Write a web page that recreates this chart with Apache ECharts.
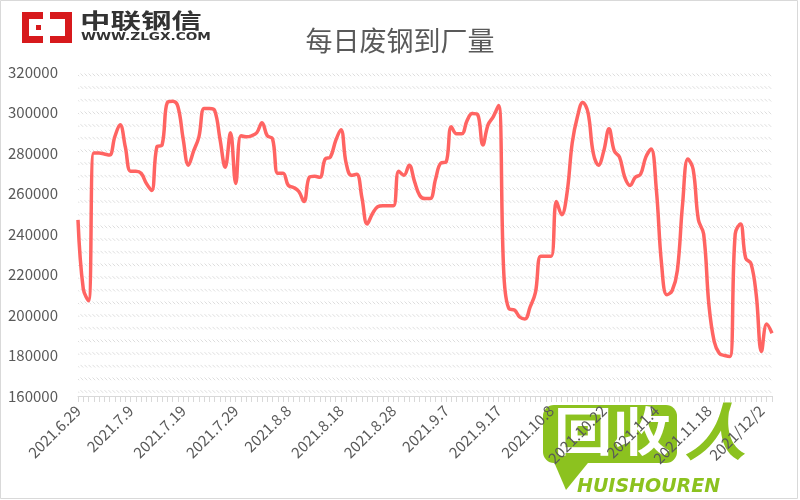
<!DOCTYPE html>
<html>
<head>
<meta charset="utf-8">
<script src="https://cdn.jsdelivr.net/npm/echarts/dist/echarts.min.js"></script>
<style>
html,body{margin:0;padding:0;background:#fff;}
#chart{width:800px;height:500px;}
</style>
</head>
<body>
<div id="chart"></div>
<script>
// ---- data ----
const chartTitle = '每日废钢到厂量';
const tickLabels = ['2021.6.29','2021.7.9','2021.7.19','2021.7.29','2021.8.8','2021.8.18','2021.8.28','2021.9.7','2021.9.17','2021.10.8','2021.10.22','2021.11.4','2021.11.18','2021/12/2'];
const arrivals = [
  247000,213000,207000,280000,280000,279500,279000,288000,294000,283000,
  271000,271000,270000,265000,261500,283000,284000,305000,305500,303000,
  287000,274000,281000,288000,302000,302000,301000,287000,273000,290000,
  265000,288500,288000,288500,290000,295000,288500,287000,270000,270000,
  264000,263000,261000,256000,268000,268500,268000,277000,278000,286000,
  291500,275000,269000,269500,258000,245000,250000,253500,254000,254000,
  254000,271000,269000,274000,266000,259000,257500,257500,267000,275000,
  275500,293000,289500,289500,296000,299500,299000,284000,294000,298000,
  303500,220000,203000,202500,199000,198000,204000,211000,229000,229000,
  229000,256000,249500,260000,285000,298000,305000,300000,280000,274000,
  281000,292000,281000,278000,268000,264000,268000,269500,278000,282000,
  262000,225000,210000,212000,222000,255000,277000,272000,247000,240000,
  205000,187000,181000,180000,179500,240000,245000,228000,225500,210000,
  182000,195500,191000
];
const yTicks = {min:160000, max:320000, step:20000};

// categories: one per observation, labelled every 10th
const categories = arrivals.map((_, i) => (i % 10 === 0 && tickLabels[i/10]) ? tickLabels[i/10] : ('d' + i));

// hatched plot background
function hatchPattern(){
  const c = document.createElement('canvas');
  c.width = 4; c.height = 38;
  const ctx = c.getContext('2d');
  ctx.strokeStyle = '#dedede';
  ctx.lineWidth = 1;
  [0, 12.67, 25.33].forEach(y0 => {
    ctx.beginPath();
    ctx.moveTo(0.5, y0 + 0.5);
    ctx.lineTo(3.2, y0 + 3.2);
    ctx.stroke();
  });
  return {image: c, repeat: 'repeat', y: 73};
}

const chart = echarts.init(document.getElementById('chart'), null, {renderer:'canvas'});
const labelColor = '#595959';
const font = '"Noto Sans CJK SC", "Microsoft YaHei", sans-serif';

chart.setOption({
  animation: false,
  backgroundColor: '#ffffff',
  title: {
    text: chartTitle,
    left: 'center',
    top: 22,
    textStyle: {fontSize: 27, fontWeight: 'normal', color: labelColor, fontFamily: font}
  },
  grid: {
    left: 78, right: 28, top: 72, bottom: 104,
    show: true,
    borderWidth: 0,
    backgroundColor: hatchPattern()
  },
  xAxis: {
    type: 'category',
    data: categories,
    boundaryGap: false,
    axisLine: {lineStyle: {color: '#d9d9d9', width: 1}},
    axisTick: {show: true, interval: 0, length: 6, lineStyle: {color: '#d9d9d9'}},
    axisLabel: {
      interval: 9,
      rotate: 45,
      margin: 12,
      color: labelColor,
      fontSize: 15,
      fontFamily: font,
      formatter: v => v.charAt(0) === 'd' ? '' : v
    },
    splitLine: {show: false}
  },
  yAxis: {
    type: 'value',
    min: yTicks.min,
    max: yTicks.max,
    interval: yTicks.step,
    axisLine: {show: false},
    axisTick: {show: false},
    splitLine: {show: false},
    axisLabel: {color: labelColor, fontSize: 15, fontFamily: font, margin: 20, formatter: v => String(v)}
  },
  series: [{
    type: 'line',
    data: arrivals,
    smooth: 0.4,
    showSymbol: false,
    lineStyle: {color: '#ff6462', width: 3.5},
    itemStyle: {color: '#ff6462'}
  }],
  graphic: [
    // outer frame
    {type:'rect', shape:{x:0.5,y:0.5,width:797,height:498}, style:{fill:'none', stroke:'#d9d9d9', lineWidth:1}, z:0},
    // logo icon
    {type:'rect', shape:{x:22,y:12,width:21,height:31}, style:{fill:'#d7191c'}},
    {type:'rect', shape:{x:29,y:19,width:14,height:17}, style:{fill:'#fff'}},
    {type:'rect', shape:{x:36,y:25,width:5,height:5}, style:{fill:'#d7191c'}},
    {type:'rect', shape:{x:50,y:12,width:22,height:31}, style:{fill:'#d7191c'}},
    {type:'rect', shape:{x:50,y:19,width:15,height:17}, style:{fill:'#fff'}},
    {type:'text', x:80, y:10, scaleX:1.45, style:{text:'中联钢信', fontSize:21, fontWeight:'bold', fill:'#333', fontFamily:font}},
    {type:'text', x:81, y:32, scaleX:1.3, style:{text:'WWW.ZLGX.COM', fontSize:10.5, fontWeight:'bold', fill:'#333', fontFamily:'DejaVu Sans, sans-serif'}},
    // watermark
    {type:'group', z:100, children:[
      {type:'polygon', shape:{points:[[548,448],[592,458],[566,490]]}, style:{fill:'#8cc21f'}},
      {type:'rect', shape:{x:543,y:405,width:134,height:58,r:11}, style:{fill:'#8cc21f'}},
      {type:'text', x:554, y:405, scaleX:1.12, style:{text:'回收', fontSize:52, fontWeight:'bold', fill:'#fff', fontFamily:font}},
      {type:'text', x:684, y:400, style:{text:'人', fontSize:62, fontWeight:'bold', fontStyle:'italic', fill:'#8cc21f', fontFamily:font}},
      {type:'text', x:577, y:478, style:{text:'HUISHOUREN', fontSize:19, fontWeight:'bold', fontStyle:'italic', fill:'#8cc21f', fontFamily:'DejaVu Sans, sans-serif'}}
    ]}
  ]
});
</script>
</body>
</html>
